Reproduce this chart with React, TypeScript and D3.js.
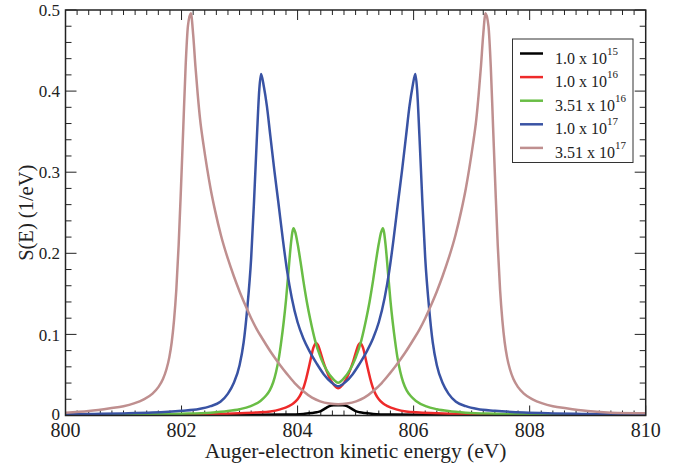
import React from "react";
import * as d3 from "d3";

type Pt = [number, number];

const seriesNames = ["1.0 x 10", "1.0 x 10", "3.51 x 10", "1.0 x 10", "3.51 x 10"];
const seriesExp = ["15", "16", "16", "17", "17"];
const seriesColors = ["#000000", "#ee2a2a", "#69bd45", "#3953a4", "#bf8f8f"];

const black: Pt[] = [
  [800, 0.0003], [802, 0.0005], [803, 0.0008], [803.8, 0.0012], [804.1, 0.002], [804.25, 0.003],
  [804.33, 0.004], [804.4, 0.0055], [804.45, 0.0076], [804.5, 0.0098], [804.55, 0.0116], [804.62, 0.0125],
  [804.7, 0.0127], [804.78, 0.0125], [804.85, 0.0116], [804.9, 0.0098], [804.95, 0.0076], [805.0, 0.0055],
  [805.07, 0.004], [805.15, 0.003], [805.3, 0.002], [805.6, 0.0012], [806.4, 0.0008], [807.4, 0.0005], [810, 0.0003],
];

const red: Pt[] = [
  [800, 0.0005], [801, 0.0008], [802, 0.0013], [802.5, 0.0018], [803, 0.0028], [803.3, 0.0038],
  [803.53, 0.005], [803.7, 0.0076], [803.85, 0.0115], [803.93, 0.015], [804.0, 0.02], [804.06, 0.027],
  [804.11, 0.036], [804.15, 0.046], [804.19, 0.058], [804.23, 0.071], [804.27, 0.083], [804.3, 0.088],
  [804.32, 0.089], [804.35, 0.087], [804.39, 0.079], [804.44, 0.067], [804.5, 0.055], [804.56, 0.045],
  [804.63, 0.0375], [804.7, 0.0335], [804.77, 0.0375], [804.84, 0.045], [804.9, 0.055], [804.96, 0.067],
  [805.01, 0.079], [805.05, 0.087], [805.08, 0.089], [805.1, 0.088], [805.13, 0.083], [805.17, 0.071],
  [805.21, 0.058], [805.25, 0.046], [805.29, 0.036], [805.34, 0.027], [805.4, 0.02], [805.47, 0.015],
  [805.55, 0.0115], [805.7, 0.0076], [805.87, 0.005], [806.1, 0.0038], [806.4, 0.0028], [806.9, 0.0018],
  [807.4, 0.0013], [808.4, 0.0008], [809.4, 0.0005], [810, 0.0004],
];

const green: Pt[] = [
  [800, 0.0006], [801, 0.001], [801.5, 0.0015], [802, 0.0022], [802.5, 0.0035], [802.8, 0.0055],
  [803, 0.0078], [803.18, 0.0112], [803.36, 0.018], [803.45, 0.024], [803.52, 0.031], [803.58, 0.041],
  [803.63, 0.054], [803.68, 0.072], [803.72, 0.092], [803.76, 0.115], [803.8, 0.142], [803.84, 0.175],
  [803.88, 0.208], [803.91, 0.226], [803.93, 0.231], [803.96, 0.226], [804.0, 0.212], [804.05, 0.19],
  [804.1, 0.166], [804.16, 0.14], [804.22, 0.118], [804.3, 0.093], [804.4, 0.071], [804.5, 0.056],
  [804.6, 0.046], [804.7, 0.0405], [804.8, 0.046], [804.9, 0.056], [805.0, 0.071], [805.1, 0.093],
  [805.18, 0.118], [805.24, 0.14], [805.3, 0.166], [805.35, 0.19], [805.4, 0.212], [805.44, 0.226],
  [805.47, 0.231], [805.49, 0.226], [805.52, 0.208], [805.56, 0.175], [805.6, 0.142], [805.64, 0.115],
  [805.68, 0.092], [805.72, 0.072], [805.77, 0.054], [805.82, 0.041], [805.88, 0.031], [805.95, 0.024],
  [806.04, 0.018], [806.22, 0.0112], [806.4, 0.0078], [806.6, 0.0055], [806.9, 0.0035], [807.4, 0.0022],
  [807.9, 0.0015], [808.4, 0.001], [809.4, 0.0006], [810, 0.0005],
];

const blue: Pt[] = [
  [800, 0.0015], [800.5, 0.002], [801, 0.0026], [801.5, 0.0036], [802, 0.0058], [802.3, 0.008],
  [802.5, 0.0115], [802.67, 0.017], [802.8, 0.027], [802.9, 0.04], [803, 0.062], [803.07, 0.09],
  [803.13, 0.13], [803.2, 0.194], [803.25, 0.265], [803.3, 0.345], [803.34, 0.402], [803.37, 0.421],
  [803.42, 0.405], [803.47, 0.382], [803.53, 0.345], [803.6, 0.302], [803.67, 0.262], [803.75, 0.215],
  [803.82, 0.178], [803.9, 0.145], [804.0, 0.115], [804.1, 0.095], [804.2, 0.08], [804.33, 0.064],
  [804.45, 0.051], [804.58, 0.041], [804.7, 0.036], [804.82, 0.041], [804.95, 0.051], [805.07, 0.064],
  [805.2, 0.08], [805.3, 0.095], [805.4, 0.115], [805.5, 0.145], [805.58, 0.178], [805.65, 0.215],
  [805.73, 0.262], [805.8, 0.302], [805.87, 0.345], [805.93, 0.382], [805.98, 0.405], [806.03, 0.421],
  [806.06, 0.402], [806.1, 0.345], [806.15, 0.265], [806.2, 0.194], [806.27, 0.13], [806.33, 0.09],
  [806.4, 0.062], [806.5, 0.04], [806.6, 0.027], [806.73, 0.017], [806.9, 0.0115], [807.1, 0.008],
  [807.4, 0.0058], [807.9, 0.0036], [808.4, 0.0026], [808.9, 0.002], [809.4, 0.0015], [810, 0.0013],
];

const brown: Pt[] = [
  [800, 0.0035], [800.4, 0.0055], [800.77, 0.0089], [801, 0.0115], [801.18, 0.015], [801.35, 0.02],
  [801.5, 0.027], [801.6, 0.035], [801.68, 0.045], [801.74, 0.057], [801.79, 0.072], [801.83, 0.09],
  [801.87, 0.117], [801.91, 0.155], [801.95, 0.21], [801.99, 0.28], [802.03, 0.355], [802.07, 0.43],
  [802.11, 0.48], [802.16, 0.496], [802.2, 0.47], [802.24, 0.43], [802.28, 0.395], [802.32, 0.365],
  [802.38, 0.333], [802.44, 0.305], [802.5, 0.28], [802.58, 0.252], [802.68, 0.222], [802.8, 0.193],
  [802.9, 0.172], [803.0, 0.153], [803.1, 0.136], [803.2, 0.12], [803.3, 0.106], [803.4, 0.094],
  [803.55, 0.077], [803.7, 0.062], [803.82, 0.051], [803.95, 0.04], [804.1, 0.03], [804.25, 0.022],
  [804.39, 0.0175], [804.55, 0.0148], [804.7, 0.0138], [804.85, 0.0148], [805.01, 0.0175], [805.15, 0.022],
  [805.3, 0.03], [805.45, 0.04], [805.58, 0.051], [805.7, 0.062], [805.85, 0.077], [806.0, 0.094],
  [806.1, 0.106], [806.2, 0.12], [806.3, 0.136], [806.4, 0.153], [806.5, 0.172], [806.6, 0.193],
  [806.72, 0.222], [806.82, 0.252], [806.9, 0.28], [806.96, 0.305], [807.02, 0.333], [807.08, 0.365],
  [807.12, 0.395], [807.16, 0.43], [807.2, 0.47], [807.24, 0.496], [807.29, 0.48], [807.33, 0.43],
  [807.37, 0.355], [807.41, 0.28], [807.45, 0.21], [807.49, 0.155], [807.53, 0.117], [807.57, 0.09],
  [807.61, 0.072], [807.66, 0.057], [807.72, 0.045], [807.8, 0.035], [807.9, 0.027], [808.05, 0.02],
  [808.22, 0.015], [808.4, 0.0115], [808.63, 0.0089], [809, 0.0055], [809.4, 0.0035], [810, 0.0028],
];

const seriesData: Pt[][] = [black, red, green, blue, brown];

const xTickLabels = [800, 802, 804, 806, 808, 810];
const yTickLabels = [0, 0.1, 0.2, 0.3, 0.4, 0.5];

const W = 689;
const H = 468;
const left = 65.5;
const right = 645.7;
const top = 10;
const bottom = 415.5;

const FONT = "'Liberation Serif', 'Times New Roman', Times, serif";

export default function App() {
  const x = d3.scaleLinear().domain([800, 810]).range([left, right]);
  const y = d3.scaleLinear().domain([0, 0.5]).range([bottom, top]);
  const line = d3
    .line<Pt>()
    .x((d) => x(d[0]))
    .y((d) => y(d[1]))
    .curve(d3.curveMonotoneX);

  const xMinor = x.ticks(50);
  const yMinor = y.ticks(25);
  const isXMajor = (v: number) => xTickLabels.some((t) => Math.abs(t - v) < 1e-6);
  const isYMajor = (v: number) => yTickLabels.some((t) => Math.abs(t - v) < 1e-6);
  const frameColor = "#222";

  const legX = 512.5;
  const legY = 39;
  const legW = 120.5;
  const legH = 123.5;
  const rowY0 = 53.5;
  const rowStep = 23.6;

  return (
    <svg
      width={W}
      height={H}
      style={{ position: "absolute", left: 0, top: 0, background: "#fff" }}
      fontFamily={FONT}
    >
      <defs>
        <clipPath id="plotClip">
          <rect x={left} y={top - 2} width={right - left} height={bottom - top + 2} />
        </clipPath>
      </defs>
      <rect x={0} y={0} width={W} height={H} fill="#fff" />

      {/* ticks */}
      <g stroke={frameColor} strokeWidth={1}>
        {xMinor.map((v, i) => {
          const len = isXMajor(v) ? 10 : 5;
          const px = x(v);
          return (
            <g key={"xt" + i}>
              <line x1={px} x2={px} y1={bottom} y2={bottom - len} />
              <line x1={px} x2={px} y1={top} y2={top + len} />
            </g>
          );
        })}
        {yMinor.map((v, i) => {
          const len = isYMajor(v) ? 11 : 6;
          const py = y(v);
          return (
            <g key={"yt" + i}>
              <line x1={left} x2={left + len} y1={py} y2={py} />
              <line x1={right} x2={right - len} y1={py} y2={py} />
            </g>
          );
        })}
      </g>

      {/* curves */}
      <g clipPath="url(#plotClip)" fill="none" strokeWidth={2.5} strokeLinejoin="round">
        {seriesData.map((s, i) => (
          <path key={"s" + i} d={line(s) || ""} stroke={seriesColors[i]} />
        ))}
      </g>

      {/* frame */}
      <rect x={left} y={top} width={right - left} height={bottom - top} fill="none" stroke={frameColor} strokeWidth={1.5} />

      {/* tick labels */}
      {xTickLabels.map((v) => (
        <text key={"xl" + v} x={x(v)} y={437} fontSize={20} textAnchor="middle" fill="#222">
          {v}
        </text>
      ))}
      {yTickLabels.map((v) => (
        <text
          key={"yl" + v}
          x={60}
          y={v === 0 ? 419.5 : y(v)}
          dy={v === 0 ? 0 : "0.36em"}
          fontSize={17}
          textAnchor="end"
          fill="#222"
        >
          {v === 0 ? "0" : v.toFixed(1)}
        </text>
      ))}

      {/* axis titles */}
      <text x={(left + right) / 2} y={458} fontSize={21.5} textAnchor="middle" fill="#222">
        Auger-electron kinetic energy (eV)
      </text>
      <text
        transform={`translate(33, ${(top + bottom) / 2}) rotate(-90)`}
        fontSize={20.5}
        textAnchor="middle"
        fill="#222"
      >
        S(E) (1/eV)
      </text>

      {/* legend */}
      <rect x={legX} y={legY} width={legW} height={legH} fill="#fff" stroke="#333" strokeWidth={1} />
      {seriesNames.map((n, i) => {
        const ry = rowY0 + i * rowStep;
        return (
          <g key={"lg" + i}>
            <line x1={520} x2={543} y1={ry} y2={ry} stroke={seriesColors[i]} strokeWidth={2.5} />
            <text x={555} y={ry + 10} fontSize={16} fill="#222">
              {n}
              <tspan dy={-9} fontSize={11}>
                {seriesExp[i]}
              </tspan>
            </text>
          </g>
        );
      })}
    </svg>
  );
}
